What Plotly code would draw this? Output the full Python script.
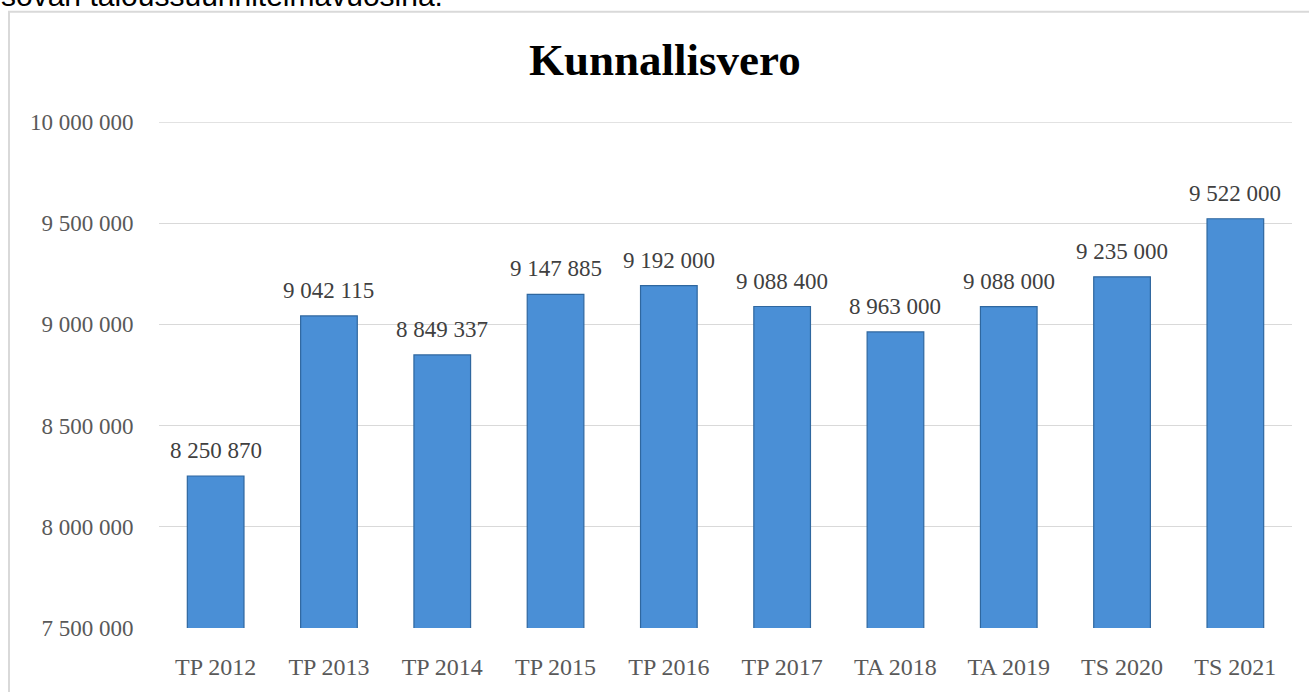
import plotly.graph_objects as go

categories = ["TP 2012", "TP 2013", "TP 2014", "TP 2015", "TP 2016",
              "TP 2017", "TA 2018", "TA 2019", "TS 2020", "TS 2021"]
values = [8250870, 9042115, 8849337, 9147885, 9192000,
          9088400, 8963000, 9088000, 9235000, 9522000]
y_ticks = [7500000, 8000000, 8500000, 9000000, 9500000, 10000000]
title_text = "Kunnallisvero"
top_text = "sovan taloussuunnitelmavuosina."

W, H = 1309, 692
L, R, T, B = 159, 17, 122, 60
PW, PH = W - L - R, H - T - B


def px_x(px):
    return (px - L) / PW


def px_y(py):
    return (H - B - py) / PH


def fmt(v):
    return f"{v:,}".replace(",", " ")


serif = "Liberation Serif, Times New Roman, serif"

fig = go.Figure()
fig.add_trace(go.Bar(
    x=categories, y=values,
    marker=dict(color="#4a8fd6", line=dict(color="#2f679f", width=1.2)),
    hoverinfo="x+y",
))

annotations = []
for c, v in zip(categories, values):
    annotations.append(dict(
        x=c, y=v, xref="x", yref="y", text=fmt(v), showarrow=False,
        yanchor="bottom", yshift=11,
        font=dict(family=serif, size=23, color="#404040"),
    ))
annotations.append(dict(
    x=px_x(665), y=px_y(60), xref="paper", yref="paper", text="<b>" + title_text + "</b>",
    showarrow=False, xanchor="center", yanchor="middle",
    font=dict(family=serif, size=45, color="#000000"),
))
annotations.append(dict(
    x=px_x(-1), y=px_y(-6), xref="paper", yref="paper", text=top_text,
    showarrow=False, xanchor="left", yanchor="middle",
    font=dict(family="Liberation Sans, Arial, sans-serif", size=30, color="#000000"),
))

shapes = [
    dict(type="rect", xref="paper", yref="paper",
         x0=px_x(9), x1=px_x(1340), y0=px_y(740), y1=px_y(11),
         line=dict(color="#d9d9d9", width=2), fillcolor="rgba(0,0,0,0)",
         layer="below"),
    dict(type="line", xref="paper", yref="y", x0=0, x1=1,
         y0=y_ticks[-1], y1=y_ticks[-1],
         line=dict(color="#d9d9d9", width=1.3), layer="below"),
]

fig.update_layout(
    width=W, height=H,
    margin=dict(l=L, r=R, t=T, b=B),
    paper_bgcolor="white", plot_bgcolor="white",
    separators=". ",
    bargap=0.5,
    showlegend=False,
    annotations=annotations,
    shapes=shapes,
)
fig.update_xaxes(
    showgrid=False, showline=False, zeroline=False,
    ticks="outside", ticklen=17, tickcolor="rgba(0,0,0,0)",
    tickfont=dict(family=serif, size=24, color="#595959"),
)
fig.update_yaxes(
    range=[y_ticks[0], y_ticks[-1]], tickvals=y_ticks,
    ticktext=[fmt(t) for t in y_ticks],
    showgrid=True, gridcolor="#d9d9d9", gridwidth=1.3,
    zeroline=False, showline=False,
    ticks="outside", ticklen=20, tickcolor="rgba(0,0,0,0)",
    tickfont=dict(family=serif, size=23, color="#595959"),
)

fig.write_html("out.html", config={"displayModeBar": False},
               post_script="document.body.style.margin='0';document.body.style.overflow='hidden';")
